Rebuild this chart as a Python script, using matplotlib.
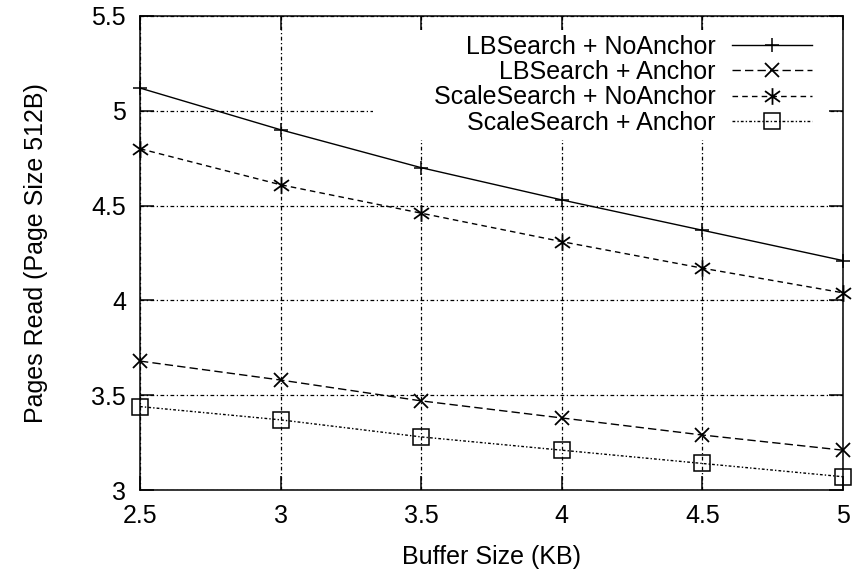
import matplotlib
matplotlib.use("Agg")
import matplotlib.pyplot as plt
from matplotlib.path import Path
from matplotlib.patches import Rectangle

plt.rcParams["font.family"] = ["Liberation Sans", "DejaVu Sans"]

buffer_kb = [2.5, 3.0, 3.5, 4.0, 4.5, 5.0]
lb_noanchor = [5.12, 4.90, 4.70, 4.53, 4.37, 4.21]
lb_anchor = [3.68, 3.58, 3.47, 3.38, 3.29, 3.21]
scale_noanchor = [4.80, 4.61, 4.46, 4.31, 4.17, 4.04]
scale_anchor = [3.44, 3.37, 3.28, 3.21, 3.14, 3.07]

x_ticks = [2.5, 3, 3.5, 4, 4.5, 5]
x_labels = ["2.5", "3", "3.5", "4", "4.5", "5"]
y_ticks = [3, 3.5, 4, 4.5, 5, 5.5]
y_labels = ["3", "3.5", "4", "4.5", "5", "5.5"]

# gnuplot style asterisk: vertical bar plus an x
star = Path([(0, -1), (0, 1), (-0.9, -0.65), (0.9, 0.65), (-0.9, 0.65), (0.9, -0.65)],
            [Path.MOVETO, Path.LINETO] * 3)

fig = plt.figure(figsize=(8.63, 5.70), dpi=100)
ax = fig.add_axes([140 / 863, 80 / 570, 703 / 863, 474 / 570])

common = dict(color="black", lw=1.0, clip_on=False, zorder=3)
ax.plot(buffer_kb, lb_noanchor, ls="-", marker="+", ms=10, mew=1.1,
        label="LBSearch + NoAnchor", **common)
ax.plot(buffer_kb, lb_anchor, ls=(0, (6, 3)), marker="x", ms=10, mew=1.3,
        label="LBSearch + Anchor", **common)
ax.plot(buffer_kb, scale_noanchor, ls=(0, (4, 3)), marker=star, ms=12, mew=1.3,
        label="ScaleSearch + NoAnchor", **common)
ax.plot(buffer_kb, scale_anchor, ls=(0, (2, 1.5, 1, 1.5)), marker="s", ms=11,
        mew=1.1, mfc="none", label="ScaleSearch + Anchor", **common)

ax.set_xlim(2.5, 5)
ax.set_ylim(3, 5.5)
ax.set_xticks(x_ticks)
ax.set_xticklabels(x_labels)
ax.set_yticks(y_ticks)
ax.set_yticklabels(y_labels)
ax.tick_params(direction="in", length=10, width=1.1, top=True, right=True,
               labelsize=18, pad=10, colors="black")
for s in ax.spines.values():
    s.set_linewidth(1.1)

ax.grid(True, color="black", lw=0.9, ls=(0, (3, 2, 1, 2)))
ax.set_axisbelow(True)

# blank the grid behind the key, like gnuplot does
ax.add_patch(Rectangle((0.331, 0.738), 0.649, 0.232, transform=ax.transAxes,
                       facecolor="white", edgecolor="none", zorder=1))

ax.set_xlabel("Buffer Size (KB)", fontsize=18, labelpad=12)
ax.set_ylabel("Pages Read (Page Size 512B)", fontsize=18, labelpad=31)

leg = ax.legend(loc="upper right", bbox_to_anchor=(824 / 863, 1 - 22 / 570),
                bbox_transform=fig.transFigure, markerfirst=False,
                fontsize=18, handlelength=3.2, handletextpad=0.65,
                labelspacing=0.06, borderpad=0.0, frameon=False)
for t in leg.get_texts():
    t.set_ha("right")
leg._legend_box.align = "right"

fig.savefig("out.png", dpi=100)
